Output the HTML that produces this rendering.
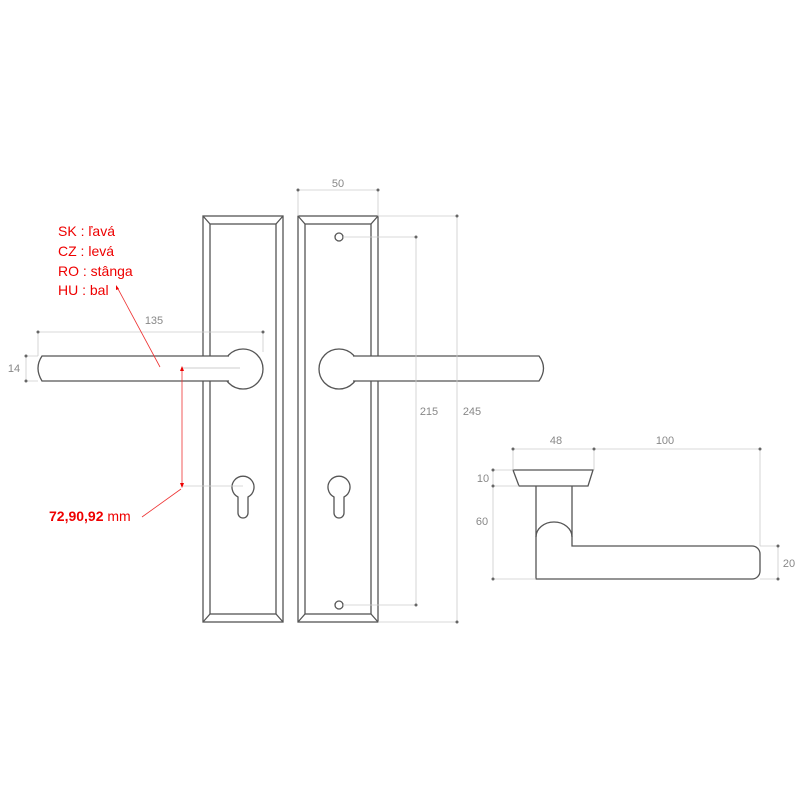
<!DOCTYPE html>
<html><head><meta charset="utf-8"><style>
html,body{margin:0;padding:0;background:#fff;width:800px;height:800px;overflow:hidden}
svg{display:block}
.o{fill:none;stroke:#555;stroke-width:1.3}
.d{fill:none;stroke:#ccc;stroke-width:0.8}
.t{font-family:"Liberation Sans",sans-serif;font-size:11px;fill:#888}
.r{font-family:"Liberation Sans",sans-serif;font-size:14px;fill:#e00}
</style></head><body>
<svg width="800" height="800" viewBox="0 0 800 800" xmlns="http://www.w3.org/2000/svg">
<!-- left plate -->
<rect class="o" x="203" y="216" width="80" height="406"/>
<rect class="o" x="210" y="224" width="66" height="390"/>
<path class="o" d="M203 216L210 224M283 216L276 224M203 622L210 614M283 622L276 614"/>
<!-- right plate -->
<rect class="o" x="298" y="216" width="80" height="406"/>
<rect class="o" x="305" y="224" width="66" height="390"/>
<path class="o" d="M298 216L305 224M378 216L371 224M298 622L305 614M378 622L371 614"/>
<circle class="o" cx="339" cy="237" r="4"/>
<circle class="o" cx="339" cy="605" r="4"/>
<!-- left lever -->
<circle fill="#fff" stroke="#555" stroke-width="1.3" cx="243" cy="369" r="20"/>
<path fill="#fff" stroke="none" d="M229 356 L42 356 Q34 368 42 381 L229 381Z"/>
<path class="o" d="M229 356 L42 356 Q34 368 42 381 L229 381"/>
<path stroke="#bbb" stroke-width="0.8" d="M182 368H240"/>
<!-- right lever -->
<circle fill="#fff" stroke="#555" stroke-width="1.3" cx="339" cy="369" r="20"/>
<path fill="#fff" stroke="none" d="M353 356 L539 356 Q548 368 539 381 L353 381Z"/>
<path class="o" d="M353 356 L539 356 Q548 368 539 381 L353 381"/>
<!-- keyholes -->
<path class="o" d="M238 497 A11 11 0 1 1 248 497 L248 513 A5 5 0 0 1 238 513 Z"/>
<path class="o" d="M334 497 A11 11 0 1 1 344 497 L344 513 A5 5 0 0 1 334 513 Z"/>
<!-- dims -->
<path class="d" d="M298 190H378M298 190V216M378 190V216"/>
<circle cx="298" cy="190" r="1.5" fill="#666"/><circle cx="378" cy="190" r="1.5" fill="#666"/>
<text class="t" x="338" y="187" text-anchor="middle">50</text>
<path class="d" d="M38 332H263M38 332V356M263 332V352"/>
<circle cx="38" cy="332" r="1.5" fill="#666"/><circle cx="263" cy="332" r="1.5" fill="#666"/>
<text class="t" x="154" y="324" text-anchor="middle">135</text>
<path class="d" d="M26 356V381M26 356H38M26 381H38"/>
<circle cx="26" cy="356" r="1.5" fill="#666"/><circle cx="26" cy="381" r="1.5" fill="#666"/>
<text class="t" x="14" y="372" text-anchor="middle">14</text>
<path class="d" d="M343 237H416M343 605H416M416 237V605M378 216H457M378 622H457M457 216V622"/>
<circle cx="416" cy="237" r="1.5" fill="#666"/><circle cx="416" cy="605" r="1.5" fill="#666"/>
<circle cx="457" cy="216" r="1.5" fill="#666"/><circle cx="457" cy="622" r="1.5" fill="#666"/>
<text class="t" x="429" y="415" text-anchor="middle">215</text>
<text class="t" x="472" y="415" text-anchor="middle">245</text>
<!-- red annotation -->
<path class="d" d="M182 486H243"/>
<path stroke="#e33" stroke-width="0.8" fill="none" d="M182 370V484M160 367L117 287M142 517L181 489"/>
<path fill="#e00" d="M182 366l-2 5h4zM182 488l-2 -5h4zM116 285l0 5 3 -1z"/>
<text class="r" x="58" y="236">SK : ľavá</text>
<text class="r" x="58" y="256">CZ : levá</text>
<text class="r" x="58" y="276">RO : stânga</text>
<text class="r" x="58" y="295">HU : bal</text>
<text class="r" x="49" y="521"><tspan font-weight="bold">72,90,92</tspan> mm</text>
<!-- side view -->
<path class="o" d="M513 470H593L588 486H519Z"/>
<path class="o" d="M536 486V579H752A8 8 0 0 0 760 571V554A8 8 0 0 0 752 546H572V486"/>
<path class="o" d="M536 537A18 15 0 0 1 572 537"/>
<path class="d" d="M513 449H760M513 449V470M594 449V470M760 449V546M493 470H513M493 486H519M493 470V579M493 579H536M778 546H760M778 579H760M778 546V579"/>
<circle cx="513" cy="449" r="1.5" fill="#666"/><circle cx="594" cy="449" r="1.5" fill="#666"/><circle cx="760" cy="449" r="1.5" fill="#666"/>
<circle cx="493" cy="470" r="1.5" fill="#666"/><circle cx="493" cy="486" r="1.5" fill="#666"/><circle cx="493" cy="579" r="1.5" fill="#666"/>
<circle cx="778" cy="546" r="1.5" fill="#666"/><circle cx="778" cy="579" r="1.5" fill="#666"/>
<text class="t" x="556" y="444" text-anchor="middle">48</text>
<text class="t" x="665" y="444" text-anchor="middle">100</text>
<text class="t" x="483" y="482" text-anchor="middle">10</text>
<text class="t" x="482" y="525" text-anchor="middle">60</text>
<text class="t" x="789" y="567" text-anchor="middle">20</text>
</svg>
</body></html>
